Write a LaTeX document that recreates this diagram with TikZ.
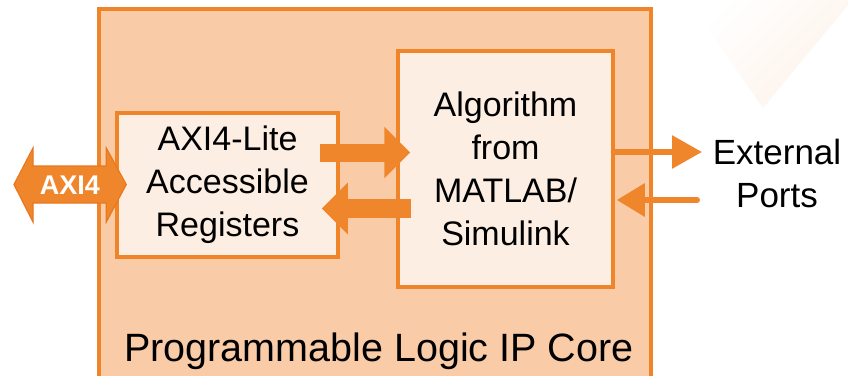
\documentclass[tikz,border=0pt]{standalone}
\usepackage{fontspec}
\setmainfont{Liberation Sans}
\usetikzlibrary{calc,arrows.meta}
\definecolor{coreline}{HTML}{EF8429}
\definecolor{corefill}{HTML}{F9CBA7}
\definecolor{boxfill}{HTML}{FDEEE3}
\definecolor{arrowfill}{HTML}{F0862B}
\definecolor{arrowline}{HTML}{E8781E}
\definecolor{fadefill}{HTML}{FEF3EA}
\tikzset{
  corebox/.style={draw=coreline, fill=corefill, line width=4pt, minimum width=552pt, minimum height=381pt, inner sep=0pt},
  blockbox/.style={draw=coreline, fill=boxfill, line width=3.5pt, inner sep=0pt, align=center, font=\fontsize{34}{43}\selectfont},
  blockarrow/.style={draw=arrowfill, line width=#1, -{Triangle[width=50pt,length=26pt]}},
  portarrow/.style={draw=arrowfill, line width=6pt, line cap=round, -{Triangle[width=32pt,length=30pt]}},
  labeltext/.style={align=center, inner sep=0pt}
}
\begin{document}
\begin{tikzpicture}[x=1pt,y=-1pt]
\useasboundingbox (0,0) rectangle (848,375);
\clip (0,0) rectangle (848,375);
\fill[white] (0,0) rectangle (848,375);
% faint background wedge, top right
\shade[left color=white, right color=fadefill, shading angle=45] (688,0) -- (848,0) -- (848,5) -- (763,108) -- cycle;

% outer core
\node[corebox] (core) at (375,199.5) {};
\node[anchor=base, font=\fontsize{39.5}{42}\selectfont] (corelabel) at (379,361) {Programmable Logic IP Core};

% inner blocks
\node[blockbox, minimum width=221pt, minimum height=144pt] (reg) at (227.5,185) {AXI4-Lite\\Accessible\\Registers};
\node[blockbox, minimum width=215pt, minimum height=236pt] (alg) at (505.5,169) {Algorithm\\from\\MATLAB/\\Simulink};

% arrows between blocks
\draw[blockarrow=18pt] ($(reg.east)+(-20,-32.5)$) -- ($(alg.west)+(14,-16.5)$);
\draw[blockarrow=19pt] ($(alg.west)+(15,39.5)$) -- ($(reg.east)+(-18,23.5)$);

% AXI4 double arrow
\coordinate (axl) at (14,184.5);
\path let \p1 = (reg.west) in coordinate (axr) at (\x1+11pt,184.5);
\filldraw[fill=arrowfill, draw=arrowline, line width=1.2pt, line join=miter]
  (axl) -- ++(19,-36.5) -- ++(0,18) -- ($(axr)+(-20,-18.5)$) -- ++(0,-18) -- (axr)
  -- ++(-20,37.5) -- ++(0,-19) -- ($(axl)+(19,18.5)$) -- ++(0,19) -- cycle;
\node[text=white, font=\bfseries\fontsize{27}{30}\selectfont, inner sep=0pt] (axi) at (70,185) {AXI4};

% external ports
\node[labeltext, font=\fontsize{35}{43}\selectfont] (ext) at (777,173) {External\\Ports};
\coordinate (outend) at (702,152);
\coordinate (inend) at (697,200);
\draw[portarrow] ($(alg.east)+(-1,-17)$) -- (outend);
\draw[portarrow, -{Triangle[width=32pt,length=28pt]}] (inend) -- ($(alg.east)+(2,31)$);
\end{tikzpicture}
\end{document}
